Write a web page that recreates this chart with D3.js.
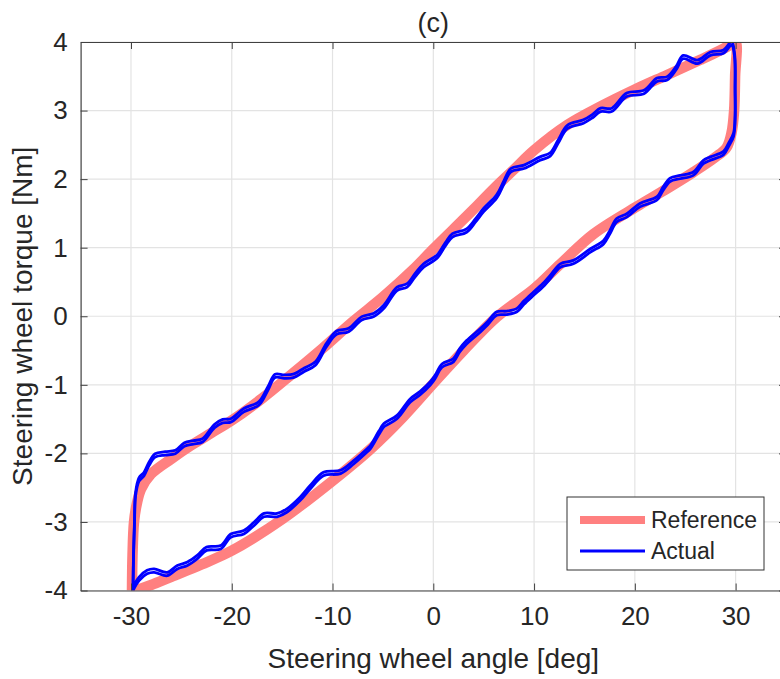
<!DOCTYPE html>
<html lang="en">
	<head>
		<meta charset="utf-8">
		<title>Steering wheel torque vs angle</title>
		<script src="https://d3js.org/d3.v7.min.js"></script>
		<style type="text/css">
			body { margin: 0; background: #fff; }
			text { font-family: "Liberation Sans", Arial, Helvetica, sans-serif; fill: #262626; }
		</style>
	</head>
	<body>
		<script type="text/javascript">
			// tick values
			var xTicks = [-30, -20, -10, 0, 10, 20, 30];
			var yTicks = [-4, -3, -2, -1, 0, 1, 2, 3, 4];

			// reference loop, [angle deg, torque Nm]
			var refUpper = [[-29.9,-4.0],[-29.85,-3.5],[-29.7,-3.0],[-29.4,-2.72],[-29,-2.52],[-28,-2.3],[-26,-2.08],
				[-24,-1.88],[-22,-1.7],[-20,-1.52],[-17,-1.2],[-14,-0.84],[-11,-0.47],[-8,-0.08],[-5,0.28],
				[-2,0.68],[0,0.98],[2,1.27],[4,1.56],[6,1.86],[8,2.14],[10,2.42],[13.3,2.79],[16.6,3.06],
				[19.9,3.3],[23.2,3.52],[26.5,3.74],[28.5,3.88],[29.5,3.96],[30,4.0]];
			var refLower = [[30,4.0],[29.95,3.5],[29.85,3.0],[29.6,2.68],[29.1,2.46],[28,2.32],[25.8,2.1],
				[22.5,1.8],[20.2,1.6],[15.9,1.2],[12.6,0.76],[10,0.4],[6.3,-0.01],[3,-0.5],[0,-0.98],
				[-3,-1.47],[-6.25,-1.94],[-10,-2.4],[-15,-2.96],[-20,-3.42],[-23,-3.62],[-26,-3.8],
				[-28,-3.92],[-29,-3.97],[-29.9,-4.0]];

			// measured loop
			var actUpper = [[-29.8,-4.0],[-29.75,-3.5],[-29.65,-3.0],[-29.55,-2.6],[-29.2,-2.38],[-28.7,-2.3],
				[-28.2,-2.15],[-27.6,-2.03],[-26.6,-2.0],[-25.6,-1.98],[-24.7,-1.87],[-23.8,-1.84],[-22.9,-1.81],
				[-21.7,-1.6],[-20.9,-1.53],[-20.1,-1.52],[-18.8,-1.37],[-17.3,-1.27],[-16.4,-1.05],[-15.7,-0.87],
				[-14.8,-0.88],[-13.9,-0.87],[-12.8,-0.78],[-11.7,-0.69],[-10.6,-0.42],[-9.6,-0.24],[-8.4,-0.2],
				[-7.1,-0.03],[-5.9,0.02],[-4.9,0.14],[-3.6,0.4],[-2.6,0.45],[-1.8,0.6],[-0.96,0.74],[0.37,0.87],
				[1.2,1.05],[1.9,1.18],[3.3,1.25],[4.2,1.4],[5.0,1.55],[6.3,1.75],[7.0,1.95],[7.7,2.13],[9.0,2.18],
				[10.6,2.3],[11.6,2.36],[12.4,2.55],[13.3,2.76],[14.9,2.84],[15.8,2.92],[16.6,3.01],[17.7,3.01],
				[19.2,3.23],[20.9,3.27],[22.2,3.45],[23.2,3.47],[24.1,3.62],[24.8,3.78],[26.2,3.71],[27.5,3.83],
				[28.8,3.86],[29.6,3.98]];
			var actLower = [[29.9,3.8],[29.95,3.3],[29.95,2.9],[29.8,2.65],[29.3,2.5],[28.8,2.38],[27.5,2.3],
				[26.8,2.25],[25.8,2.08],[24.5,2.03],[23.5,1.99],[22.8,1.86],[22.2,1.72],[20.5,1.62],[19.2,1.47],
				[18.2,1.4],[17.5,1.22],[16.9,1.08],[15.6,0.96],[13.9,0.79],[12.6,0.74],[11.6,0.57],[11.0,0.47],
				[9.95,0.33],[9.0,0.2],[8.3,0.09],[7.3,0.05],[6.3,0.04],[5.4,-0.1],[4.7,-0.2],[3.3,-0.38],
				[2.6,-0.5],[2.0,-0.64],[0.86,-0.72],[0.2,-0.88],[-0.3,-0.98],[-1.3,-1.12],[-2.3,-1.23],
				[-3.6,-1.47],[-4.9,-1.59],[-5.4,-1.7],[-6.25,-1.91],[-6.6,-1.96],[-7.9,-2.13],[-9.2,-2.27],
				[-10.9,-2.3],[-12.2,-2.49],[-13.2,-2.66],[-14.5,-2.83],[-15.5,-2.9],[-16.8,-2.9],[-17.8,-3.03],
				[-18.8,-3.15],[-20.1,-3.2],[-21.1,-3.37],[-22.5,-3.39],[-23.4,-3.51],[-24.4,-3.61],[-25.4,-3.66],
				[-26.4,-3.76],[-27.7,-3.71],[-28.4,-3.73],[-29.2,-3.83],[-29.7,-3.95],[-29.8,-4.0]];

			var legendNames = ["Reference", "Actual"];

			var margin = {left: 80.6, right: 786, top: 42, bottom: 590.5};

			var svg = d3.select("body").append("svg")
				.attr("width", 780)
				.attr("height", 679);

			var x = d3.scaleLinear().domain([-35, 35]).range([margin.left, margin.right]);
			var y = d3.scaleLinear().domain([-4, 4]).range([margin.bottom, margin.top]);

			svg.append("clipPath").attr("id", "plotclip")
				.append("rect")
				.attr("x", margin.left).attr("y", margin.top)
				.attr("width", margin.right - margin.left).attr("height", margin.bottom - margin.top);

			// grid
			svg.append("g")
				.selectAll("line")
				.data(xTicks)
				.enter().append("line")
				.attr("x1", function(d){ return x(d); })
				.attr("x2", function(d){ return x(d); })
				.attr("y1", margin.top).attr("y2", margin.bottom)
				.attr("stroke", "#e3e3e3").attr("stroke-width", 1.2);
			svg.append("g")
				.selectAll("line")
				.data(yTicks)
				.enter().append("line")
				.attr("y1", function(d){ return y(d); })
				.attr("y2", function(d){ return y(d); })
				.attr("x1", margin.left).attr("x2", margin.right)
				.attr("stroke", "#e3e3e3").attr("stroke-width", 1.2);

			var line = d3.line()
				.x(function(d){ return x(d[0]); })
				.y(function(d){ return y(d[1]); })
				.curve(d3.curveCatmullRom);

			var plot = svg.append("g").attr("clip-path", "url(#plotclip)");

			plot.append("path")
				.attr("d", line(refUpper.concat(refLower.slice(1))))
				.attr("fill", "none")
				.attr("stroke", "#ff8080")
				.attr("stroke-width", 10.5)
				.attr("stroke-linejoin", "round");

			// a few overlapping cycles of the measured signal
			var actLoop = actUpper.concat(actLower);
			[-1.7, 1.7].forEach(function(off){
				plot.append("path")
					.attr("d", line(actLoop))
					.attr("transform", "translate(0," + off + ")")
					.attr("fill", "none")
					.attr("stroke", "#0000ff")
					.attr("stroke-width", 2.8)
					.attr("stroke-linejoin", "round");
			});

			// axes (box with inward ticks)
			var tickLen = 7;
			var axisCol = "#404040";
			function styleAxis(g){
				g.select(".domain").attr("stroke", axisCol).attr("stroke-width", 1.2);
				g.selectAll(".tick line").attr("stroke", axisCol);
				g.selectAll(".tick text").style("font-size", "26px").attr("fill", "#262626");
			}
			svg.append("g")
				.attr("transform", "translate(0," + margin.bottom + ")")
				.call(d3.axisBottom(x).tickValues(xTicks).tickSizeInner(-tickLen).tickSizeOuter(0).tickPadding(16)
					.tickFormat(function(d){ return String(d); }))
				.call(styleAxis);
			svg.append("g")
				.attr("transform", "translate(0," + margin.top + ")")
				.call(d3.axisTop(x).tickValues(xTicks).tickSizeInner(-tickLen).tickSizeOuter(0).tickFormat(""))
				.call(styleAxis);
			svg.append("g")
				.attr("transform", "translate(" + margin.left + ",0)")
				.call(d3.axisLeft(y).tickValues(yTicks).tickSizeInner(-tickLen).tickSizeOuter(0).tickPadding(13)
					.tickFormat(function(d){ return String(d); }))
				.call(styleAxis);
			svg.append("g")
				.attr("transform", "translate(" + margin.right + ",0)")
				.call(d3.axisRight(y).tickValues(yTicks).tickSizeInner(-tickLen).tickSizeOuter(0).tickFormat(""))
				.call(styleAxis);

			// labels
			svg.append("text")
				.attr("x", x(0)).attr("y", 32)
				.attr("text-anchor", "middle")
				.style("font-size", "27px")
				.text("(c)");
			svg.append("text")
				.attr("x", x(0)).attr("y", 668)
				.attr("text-anchor", "middle")
				.style("font-size", "28px")
				.text("Steering wheel angle [deg]");
			svg.append("text")
				.attr("transform", "translate(32," + y(0) + ") rotate(-90)")
				.attr("text-anchor", "middle")
				.style("font-size", "28px")
				.text("Steering wheel torque [Nm]");

			// legend
			var lg = svg.append("g").attr("transform", "translate(567,497)");
			lg.append("rect")
				.attr("width", 197).attr("height", 73)
				.attr("fill", "#fff").attr("stroke", "#333").attr("stroke-width", 1);
			lg.append("line")
				.attr("x1", 13).attr("x2", 78).attr("y1", 23).attr("y2", 23)
				.attr("stroke", "#ff8080").attr("stroke-width", 8);
			lg.append("line")
				.attr("x1", 13).attr("x2", 78).attr("y1", 54).attr("y2", 54)
				.attr("stroke", "#0000ff").attr("stroke-width", 2.8);
			lg.selectAll("text")
				.data(legendNames)
				.enter().append("text")
				.attr("x", 84)
				.attr("y", function(d, i){ return 31 + i * 31; })
				.style("font-size", "23px")
				.text(function(d){ return d; });
		</script>
	</body>
</html>
